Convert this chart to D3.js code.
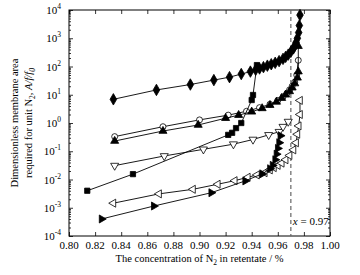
<!DOCTYPE html>
<html>
<head>
<meta charset="utf-8">
<script src="https://cdn.jsdelivr.net/npm/d3@7"></script>
<style>
  body { margin: 0; background: #fff; }
  text { font-family: "Liberation Serif", "DejaVu Serif", serif; fill: #000; }
  .tick-label { font-size: 11px; }
  .axis-label { font-size: 10.5px; }
</style>
</head>
<body>
<div id="chart"></div>
<script>
// x ticks
const xTicks = [0.80, 0.82, 0.84, 0.86, 0.88, 0.90, 0.92, 0.94, 0.96, 0.98, 1.00];
const yExponents = [-4, -3, -2, -1, 0, 1, 2, 3, 4];

// series (x = N2 fraction, y = dimensionless area)
const diamondX = [0.834, 0.867, 0.893, 0.911, 0.923, 0.932, 0.939, 0.943, 0.946, 0.949, 0.952, 0.955, 0.958, 0.961, 0.964, 0.966, 0.968, 0.970, 0.972, 0.973, 0.974, 0.975, 0.976, 0.9765, 0.977];
const diamondY = [6.9, 14.8, 23, 33, 42, 54, 66, 76, 85, 95, 107, 120, 135, 155, 186, 219, 263, 331, 437, 537, 708, 1000, 1585, 2818, 6600];

const circleX = [0.835, 0.872, 0.900, 0.922, 0.936, 0.946, 0.954, 0.960, 0.964, 0.967, 0.969, 0.971, 0.973, 0.9745, 0.9757];
const circleY = [0.33, 0.74, 1.29, 1.9, 2.6, 3.5, 4.6, 6.3, 8.5, 11.2, 14.8, 20, 28, 50, 166];

const triUpX = [0.835, 0.872, 0.899, 0.920, 0.930, 0.940, 0.948, 0.954, 0.959, 0.963, 0.966, 0.969, 0.971, 0.973, 0.975, 0.9757, 0.9757];
const triUpY = [0.23, 0.52, 0.85, 1.48, 1.9, 2.5, 3.3, 4.3, 5.6, 7.6, 10, 13.2, 17.8, 25, 40, 66, 525];

const squareX = [0.814, 0.849, 0.922, 0.925, 0.928, 0.932, 0.940, 0.941, 0.944];
const squareY = [0.004, 0.0155, 0.38, 0.45, 0.66, 1.0, 6.5, 9.8, 112];

const triDownX = [0.835, 0.873, 0.903, 0.926, 0.941, 0.953, 0.961, 0.964, 0.968];
const triDownY = [0.031, 0.068, 0.117, 0.178, 0.26, 0.38, 0.49, 0.74, 1.12];

const triLeftX = [0.834, 0.869, 0.895, 0.914, 0.927, 0.937, 0.944, 0.950, 0.954, 0.957, 0.960, 0.963, 0.966, 0.969, 0.972, 0.974, 0.975, 0.976, 0.977, 0.977];
const triLeftY = [0.00145, 0.0031, 0.0045, 0.0068, 0.0091, 0.012, 0.0145, 0.0174, 0.0219, 0.0263, 0.0316, 0.038, 0.05, 0.071, 0.112, 0.2, 0.4, 0.79, 2.0, 6.3];

const triRightX = [0.825, 0.865, 0.909, 0.935, 0.948, 0.954, 0.956, 0.958, 0.959, 0.960, 0.961, 0.962];
const triRightY = [0.0004, 0.00115, 0.0034, 0.0089, 0.0158, 0.024, 0.0316, 0.05, 0.079, 0.126, 0.2, 0.355];

const dashX = 0.97;

const W = 360, H = 275;
const margin = {top: 10, right: 30, bottom: 39, left: 69},
    width = W - margin.left - margin.right,
    height = H - margin.top - margin.bottom;

const svg = d3.select("#chart").append("svg")
    .attr("width", W).attr("height", H)
  .append("g")
    .attr("transform", `translate(${margin.left},${margin.top})`);

const xScale = d3.scaleLinear().domain([0.80, 1.00]).range([0, width]);
const yScale = d3.scaleLog().domain([1e-4, 1e4]).range([height, 0]);

// minor ticks for log axis
const minorTicks = [];
yExponents.slice(0, -1).forEach(e => {
  for (let k = 2; k <= 9; k++) minorTicks.push(k * Math.pow(10, e));
});
const majorTicks = yExponents.map(e => Math.pow(10, e));

// inner ticks
function tickAxis(axis, ticks, size, transform) {
  svg.append("g").attr("transform", transform || null)
    .call(axis.tickValues(ticks).tickSize(size).tickFormat(""))
    .call(g => g.select(".domain").remove())
    .selectAll("line").attr("stroke", "#000").attr("stroke-width", 0.8);
}
tickAxis(d3.axisLeft(yScale), majorTicks, -4);
tickAxis(d3.axisLeft(yScale), minorTicks, -2);
tickAxis(d3.axisRight(yScale), majorTicks, -4, `translate(${width},0)`);
tickAxis(d3.axisRight(yScale), minorTicks, -2, `translate(${width},0)`);
tickAxis(d3.axisBottom(xScale), xTicks, -4, `translate(0,${height})`);
tickAxis(d3.axisTop(xScale), xTicks, -4);

// frame
svg.append("rect").attr("width", width).attr("height", height)
  .attr("fill", "none").attr("stroke", "#000").attr("stroke-width", 1);

// x tick labels
svg.selectAll(".xlab").data(xTicks).enter().append("text")
  .attr("class", "tick-label")
  .attr("x", d => xScale(d)).attr("y", height + 13)
  .attr("text-anchor", "middle")
  .text(d => d.toFixed(2));

// y tick labels 10^n
const ylab = svg.selectAll(".ylab").data(yExponents).enter().append("text")
  .attr("class", "tick-label")
  .attr("x", -8).attr("y", d => yScale(Math.pow(10, d)) + 4)
  .attr("text-anchor", "end");
ylab.append("tspan").text("10");
ylab.append("tspan").attr("dy", -5).attr("font-size", "7.5px").text(d => d);

// dashed line
svg.append("line")
  .attr("x1", xScale(dashX)).attr("x2", xScale(dashX))
  .attr("y1", 0).attr("y2", height)
  .attr("stroke", "#666").attr("stroke-width", 1.2)
  .attr("stroke-dasharray", "4,3");

svg.append("text").attr("class", "tick-label")
  .attr("x", xScale(dashX) + 2).attr("y", yScale(2e-4) - 2)
  .html('<tspan font-style="italic">x</tspan> = 0.97');

// series
const series = [
  {x: diamondX, y: diamondY, sym: d3.symbolDiamond, rot: 0, fill: "#000", size: 38},
  {x: circleX, y: circleY, sym: d3.symbolCircle, rot: 0, fill: "#fff", size: 28},
  {x: triUpX, y: triUpY, sym: d3.symbolTriangle, rot: 0, fill: "#000", size: 28},
  {x: squareX, y: squareY, sym: d3.symbolSquare, rot: 0, fill: "#000", size: 28},
  {x: triDownX, y: triDownY, sym: d3.symbolTriangle, rot: 180, fill: "#fff", size: 28},
  {x: triLeftX, y: triLeftY, sym: d3.symbolTriangle, rot: -90, fill: "#fff", size: 28},
  {x: triRightX, y: triRightY, sym: d3.symbolTriangle, rot: 90, fill: "#000", size: 28}
];

const line = d3.line().x(d => xScale(d[0])).y(d => yScale(d[1]));

series.forEach(s => {
  const pts = s.x.map((v, i) => [v, s.y[i]]);
  svg.append("path").datum(pts)
    .attr("d", line).attr("fill", "none")
    .attr("stroke", "#000").attr("stroke-width", 0.9);
  svg.append("g").selectAll("path").data(pts).enter().append("path")
    .attr("d", d3.symbol().type(s.sym).size(s.size))
    .attr("transform", d => `translate(${xScale(d[0])},${yScale(d[1])}) rotate(${s.rot})`)
    .attr("fill", s.fill).attr("stroke", "#000").attr("stroke-width", 0.8);
});

// axis labels
svg.append("text").attr("class", "axis-label")
  .attr("x", width / 2).attr("y", height + 26)
  .attr("text-anchor", "middle")
  .html('The concentration of N<tspan dy="3" font-size="7.5px">2</tspan><tspan dy="-3"> in retentate / %</tspan>');

const yl = svg.append("text").attr("class", "axis-label")
  .attr("transform", `translate(${-margin.left + 18},${height / 2}) rotate(-90)`)
  .attr("text-anchor", "middle");
yl.append("tspan").attr("x", 0).attr("dy", 0).text("Dimensionless membrane area");
const l2 = yl.append("tspan").attr("x", 0).attr("dy", 14);
l2.text("required for unit N");
yl.append("tspan").attr("dy", 3).attr("font-size", "7.5px").text("2");
yl.append("tspan").attr("dy", -3).text(", ");
yl.append("tspan").attr("font-style", "italic").text("A/f/f");
yl.append("tspan").attr("dy", 3).attr("font-size", "7.5px").attr("font-style", "italic").text("0");
</script>
</body>
</html>
